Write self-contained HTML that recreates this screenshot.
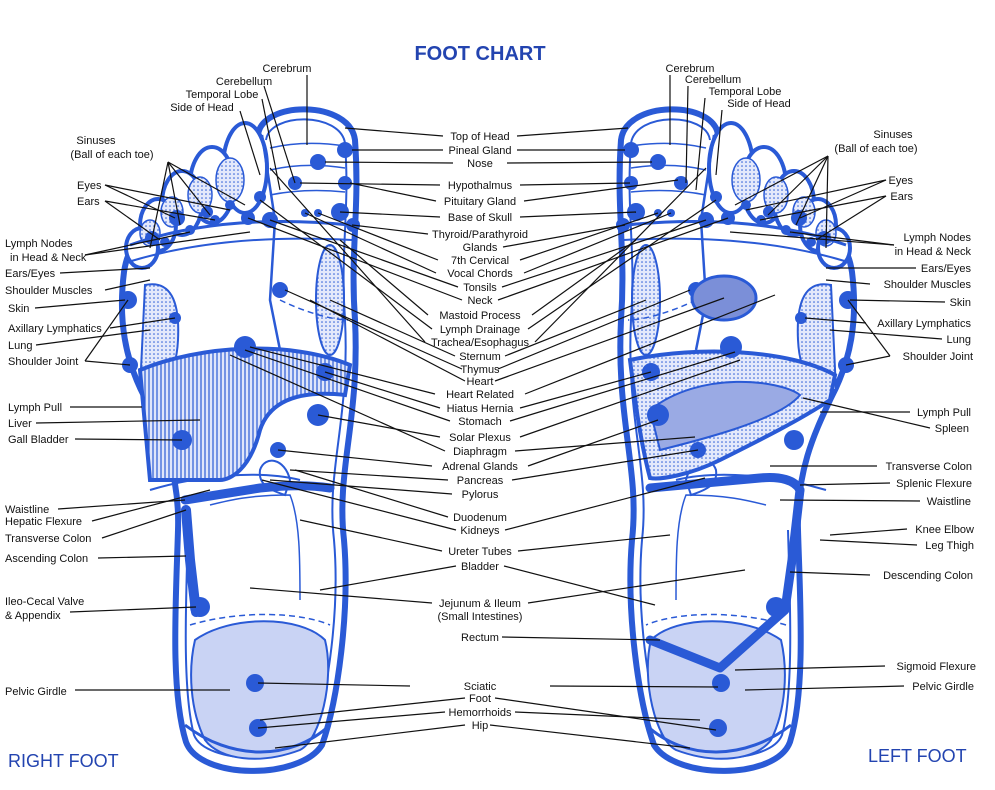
<!DOCTYPE html>
<html><head><meta charset="utf-8"><style>
html,body{margin:0;padding:0;background:#fff;}
svg{display:block;font-family:"Liberation Sans",Arial,sans-serif;}
.t{font-size:11px;fill:#111;}
.c{text-anchor:middle;}
.e{text-anchor:end;}
.L line{stroke:#111;stroke-width:1.2;}
</style></head><body>
<svg width="995" height="790" viewBox="0 0 995 790" xmlns="http://www.w3.org/2000/svg">
<defs>
<pattern id="hatch" width="4" height="4" patternUnits="userSpaceOnUse"><rect width="4" height="4" fill="#dfe5fa"/><line x1="1" y1="0" x2="1" y2="4" stroke="#2a5ad6" stroke-width="1.2"/></pattern>
<pattern id="dots" width="4" height="4" patternUnits="userSpaceOnUse"><rect width="4" height="4" fill="#e4e9fb"/><circle cx="2" cy="2" r="0.8" fill="#2a5ad6"/></pattern>
<g id="foot" stroke="#2a5ad6" fill="none">
 <!-- main outline -->
 <path d="M258,135 C262,100 350,100 355,140 C360,210 350,250 355,320 C360,420 336,470 344,540 C350,610 338,700 322,745 C300,780 200,780 186,742 C170,690 176,600 178,530 C180,470 160,430 145,398 C125,360 118,320 124,272 C128,245 140,235 160,232 Z" fill="#fff" stroke-width="6"/>
 <path d="M266,140 C270,112 340,112 345,143 C350,210 340,250 345,320 C350,420 326,470 334,540 C340,610 328,690 314,735 C296,765 206,765 194,735 C182,690 186,600 188,530" stroke-width="2"/>
 <!-- toes -->
 <ellipse cx="245" cy="168" rx="22" ry="45" stroke-width="4" fill="#fff"/>
 <ellipse cx="212" cy="185" rx="22" ry="38" stroke-width="4" fill="#fff"/>
 <ellipse cx="182" cy="203" rx="20" ry="32" stroke-width="4" fill="#fff"/>
 <ellipse cx="158" cy="225" rx="18" ry="26" stroke-width="4" fill="#fff"/>
 <ellipse cx="142" cy="248" rx="16" ry="20" stroke-width="4" fill="#fff"/>
 <ellipse cx="230" cy="180" rx="14" ry="22" fill="url(#dots)" stroke-width="1.5"/>
 <ellipse cx="200" cy="195" rx="12" ry="18" fill="url(#dots)" stroke-width="1.5"/>
 <ellipse cx="172" cy="212" rx="11" ry="15" fill="url(#dots)" stroke-width="1.5"/>
 <ellipse cx="150" cy="233" rx="10" ry="13" fill="url(#dots)" stroke-width="1.5"/>
 <!-- big toe lines -->
 <path d="M270,148 Q305,140 345,146 M270,170 Q305,162 345,168 M270,195 Q305,188 345,192" stroke-width="1.5"/>
 <path d="M262,135 L275,220 L270,300 L280,350" stroke-width="2.5"/>
 <!-- diaphragm band -->
 <path d="M130,245 C200,220 280,218 350,225" stroke-width="3"/>
 <path d="M128,262 C200,240 280,236 352,240" stroke-width="2"/>
 <!-- lung region -->
 <path d="M145,285 C170,280 180,300 178,340 C176,380 160,390 140,390 Z" fill="url(#dots)" stroke-width="2"/>
 <ellipse cx="330" cy="300" rx="14" ry="55" fill="url(#dots)" stroke-width="2"/>
 <path d="M280,300 C300,310 330,320 348,320" stroke-width="1.5" stroke-dasharray="6 4"/>
 <!-- stomach/pancreas -->
 <path d="M260,470 C265,455 285,458 290,480 L285,495 C270,490 258,485 260,470 Z" fill="#fff" stroke-width="2"/>
 <path d="M150,490 C200,475 260,470 300,480" stroke-width="2"/>
 <path d="M210,505 C230,500 250,495 290,495 C300,520 300,560 300,600" stroke-width="1.5"/>
 <path d="M190,625 C240,610 300,612 330,625" stroke-width="1.5" stroke-dasharray="6 4"/>
 <!-- heel -->
 <path d="M195,640 C230,615 300,615 325,640 C335,680 320,740 300,750 C260,765 220,760 205,740 C190,710 188,670 195,640 Z" fill="#c9d3f4" stroke-width="2"/>
 <path d="M185,725 C230,760 290,762 330,725" stroke-width="3"/>
</g>
<g id="dotsg" fill="#2a5ad6" stroke="none">
  <circle cx="345" cy="150" r="8"/><circle cx="318" cy="162" r="8"/><circle cx="295" cy="183" r="7"/>
  <circle cx="345" cy="183" r="7"/><circle cx="340" cy="212" r="9"/><circle cx="353" cy="225" r="7"/>
  <circle cx="270" cy="220" r="8"/><circle cx="260" cy="197" r="6"/><circle cx="248" cy="218" r="7"/>
  <circle cx="177" cy="218" r="8"/><circle cx="152" cy="238" r="7"/><circle cx="207" cy="212" r="6"/>
  <circle cx="230" cy="205" r="5"/><circle cx="215" cy="220" r="5"/><circle cx="190" cy="230" r="5"/>
  <circle cx="165" cy="242" r="5"/><circle cx="305" cy="213" r="4"/><circle cx="318" cy="213" r="4"/>
  <circle cx="128" cy="300" r="9"/><circle cx="175" cy="318" r="6"/><circle cx="130" cy="365" r="8"/>
  <circle cx="280" cy="290" r="8"/><circle cx="245" cy="347" r="11"/><circle cx="325" cy="372" r="9"/>
  <circle cx="318" cy="415" r="11"/><circle cx="278" cy="450" r="8"/><circle cx="182" cy="440" r="10"/>
  <circle cx="255" cy="683" r="9"/><circle cx="258" cy="728" r="9"/>
</g>
</defs>
<use href="#foot"/>
<use href="#foot" transform="translate(976,0) scale(-1,1)"/>
<!-- right foot liver + colon -->
<g stroke="#2a5ad6" fill="none">
 <path d="M140,370 C200,345 290,340 350,365 L345,395 C300,390 270,400 260,430 C250,470 230,480 220,480 L150,480 Z" fill="url(#hatch)" stroke-width="4"/>
 <path d="M185,500 L260,488 C290,485 310,485 330,488" stroke-width="9" stroke-linecap="round"/>
 <path d="M186,510 L190,560 L196,612" stroke-width="10" stroke-linecap="round"/>
</g>
<!-- left foot stomach/colon -->
<g stroke="#2a5ad6" fill="none">
 <path d="M630,360 C700,345 790,350 835,375 L830,400 C800,420 760,440 720,460 C690,475 660,480 650,478 C640,440 635,400 630,360 Z" fill="url(#dots)" stroke-width="4"/>
 <path d="M650,410 C700,370 780,380 800,395 C780,420 700,440 660,450 Z" fill="#9aaae4" stroke-width="2"/>
 <path d="M650,488 L760,478 C780,476 795,480 800,490" stroke-width="9" stroke-linecap="round"/>
 <path d="M800,490 L792,560 L785,610 L720,668 L650,640" stroke-width="9" stroke-linecap="round" stroke-linejoin="round"/>
</g>
<use href="#dotsg"/>
<use href="#dotsg" transform="translate(976,0) scale(-1,1)"/>
<circle cx="200" cy="607" r="10" fill="#2a5ad6"/>
<circle cx="776" cy="607" r="10" fill="#2a5ad6"/>
<ellipse cx="724" cy="298" rx="32" ry="22" fill="#7b8fd8" stroke="#2a5ad6" stroke-width="3"/>

<text x="480" y="60" class="c" style="font-size:20px;font-weight:bold;fill:#2344b0">FOOT CHART</text>
<text x="8" y="767" style="font-size:18px;fill:#2344b0">RIGHT FOOT</text>
<text x="868" y="762" style="font-size:18px;fill:#2344b0">LEFT FOOT</text>

<g class="t c">
<text x="480" y="140">Top of Head</text><text x="480" y="154">Pineal Gland</text><text x="480" y="167">Nose</text>
<text x="480" y="189">Hypothalmus</text><text x="480" y="205">Pituitary Gland</text><text x="480" y="221">Base of Skull</text>
<text x="480" y="238">Thyroid/Parathyroid</text><text x="480" y="251">Glands</text><text x="480" y="264">7th Cervical</text>
<text x="480" y="277">Vocal Chords</text><text x="480" y="291">Tonsils</text><text x="480" y="304">Neck</text>
<text x="480" y="319">Mastoid Process</text><text x="480" y="333">Lymph Drainage</text><text x="480" y="346">Trachea/Esophagus</text>
<text x="480" y="360">Sternum</text><text x="480" y="373">Thymus</text><text x="480" y="385">Heart</text>
<text x="480" y="398">Heart Related</text><text x="480" y="412">Hiatus Hernia</text><text x="480" y="425">Stomach</text>
<text x="480" y="441">Solar Plexus</text><text x="480" y="455">Diaphragm</text><text x="480" y="470">Adrenal Glands</text>
<text x="480" y="484">Pancreas</text><text x="480" y="498">Pylorus</text><text x="480" y="521">Duodenum</text>
<text x="480" y="534">Kidneys</text><text x="480" y="555">Ureter Tubes</text><text x="480" y="570">Bladder</text>
<text x="480" y="607">Jejunum &amp; Ileum</text><text x="480" y="620">(Small Intestines)</text><text x="480" y="641">Rectum</text>
<text x="480" y="690">Sciatic</text><text x="480" y="702">Foot</text><text x="480" y="716">Hemorrhoids</text><text x="480" y="729">Hip</text>
<text x="287" y="72">Cerebrum</text><text x="244" y="85">Cerebellum</text><text x="222" y="98">Temporal Lobe</text><text x="202" y="111">Side of Head</text>
<text x="96" y="144">Sinuses</text><text x="112" y="158">(Ball of each toe)</text>
<text x="690" y="72">Cerebrum</text><text x="713" y="83">Cerebellum</text><text x="745" y="95">Temporal Lobe</text><text x="759" y="107">Side of Head</text>
<text x="893" y="138">Sinuses</text><text x="876" y="152">(Ball of each toe)</text>
</g>
<g class="t">
<text x="77" y="189">Eyes</text><text x="77" y="205">Ears</text>
<text x="5" y="247">Lymph Nodes</text><text x="10" y="261">in Head &amp; Neck</text><text x="5" y="277">Ears/Eyes</text>
<text x="5" y="294">Shoulder Muscles</text><text x="8" y="312">Skin</text><text x="8" y="332">Axillary Lymphatics</text>
<text x="8" y="349">Lung</text><text x="8" y="365">Shoulder Joint</text><text x="8" y="411">Lymph Pull</text>
<text x="8" y="427">Liver</text><text x="8" y="443">Gall Bladder</text><text x="5" y="513">Waistline</text>
<text x="5" y="525">Hepatic Flexure</text><text x="5" y="542">Transverse Colon</text><text x="5" y="562">Ascending Colon</text>
<text x="5" y="605">Ileo-Cecal Valve</text><text x="5" y="619">&amp; Appendix</text><text x="5" y="695">Pelvic Girdle</text>
</g>
<g class="t e">
<text x="913" y="184">Eyes</text><text x="913" y="200">Ears</text>
<text x="971" y="241">Lymph Nodes</text><text x="971" y="255">in Head &amp; Neck</text><text x="971" y="272">Ears/Eyes</text>
<text x="971" y="288">Shoulder Muscles</text><text x="971" y="306">Skin</text><text x="971" y="327">Axillary Lymphatics</text>
<text x="971" y="343">Lung</text><text x="973" y="360">Shoulder Joint</text><text x="971" y="416">Lymph Pull</text>
<text x="969" y="432">Spleen</text><text x="972" y="470">Transverse Colon</text><text x="972" y="487">Splenic Flexure</text>
<text x="971" y="505">Waistline</text><text x="974" y="533">Knee Elbow</text><text x="974" y="549">Leg Thigh</text>
<text x="973" y="579">Descending Colon</text><text x="976" y="670">Sigmoid Flexure</text><text x="974" y="690">Pelvic Girdle</text>
</g>

<g class="L">
<line x1="443" y1="136" x2="345" y2="128"/><line x1="443" y1="150" x2="352" y2="150"/><line x1="453" y1="163" x2="325" y2="162"/>
<line x1="440" y1="185" x2="300" y2="183"/><line x1="436" y1="201" x2="350" y2="183"/><line x1="440" y1="217" x2="340" y2="212"/>
<line x1="428" y1="234" x2="352" y2="225"/><line x1="438" y1="260" x2="318" y2="213"/><line x1="436" y1="273" x2="305" y2="213"/>
<line x1="458" y1="287" x2="270" y2="220"/><line x1="462" y1="300" x2="248" y2="218"/><line x1="428" y1="315" x2="340" y2="240"/>
<line x1="432" y1="329" x2="260" y2="200"/><line x1="425" y1="342" x2="270" y2="168"/><line x1="455" y1="356" x2="330" y2="300"/>
<line x1="462" y1="369" x2="285" y2="290"/><line x1="465" y1="381" x2="310" y2="300"/><line x1="435" y1="394" x2="250" y2="347"/>
<line x1="440" y1="408" x2="325" y2="372"/><line x1="450" y1="421" x2="245" y2="350"/><line x1="440" y1="437" x2="318" y2="415"/>
<line x1="445" y1="451" x2="230" y2="355"/><line x1="432" y1="466" x2="278" y2="450"/><line x1="448" y1="480" x2="290" y2="470"/>
<line x1="452" y1="494" x2="270" y2="480"/><line x1="448" y1="517" x2="295" y2="470"/><line x1="456" y1="530" x2="262" y2="480"/>
<line x1="442" y1="551" x2="300" y2="520"/><line x1="456" y1="566" x2="320" y2="590"/><line x1="432" y1="603" x2="250" y2="588"/>
<line x1="410" y1="686" x2="258" y2="683"/><line x1="465" y1="698" x2="260" y2="720"/><line x1="445" y1="712" x2="258" y2="728"/>
<line x1="465" y1="725" x2="275" y2="748"/>
<line x1="517" y1="136" x2="628" y2="128"/><line x1="517" y1="150" x2="625" y2="150"/><line x1="507" y1="163" x2="652" y2="162"/>
<line x1="520" y1="185" x2="630" y2="183"/><line x1="524" y1="201" x2="678" y2="180"/><line x1="520" y1="217" x2="636" y2="212"/>
<line x1="503" y1="247" x2="625" y2="225"/><line x1="520" y1="260" x2="658" y2="213"/><line x1="524" y1="273" x2="671" y2="213"/>
<line x1="502" y1="287" x2="706" y2="220"/><line x1="498" y1="300" x2="728" y2="218"/><line x1="532" y1="315" x2="636" y2="240"/>
<line x1="528" y1="329" x2="716" y2="200"/><line x1="535" y1="342" x2="706" y2="168"/><line x1="505" y1="356" x2="646" y2="300"/>
<line x1="498" y1="369" x2="690" y2="290"/><line x1="495" y1="381" x2="724" y2="298"/><line x1="525" y1="394" x2="775" y2="295"/>
<line x1="520" y1="408" x2="651" y2="372"/><line x1="510" y1="421" x2="735" y2="352"/><line x1="520" y1="437" x2="740" y2="360"/>
<line x1="515" y1="451" x2="695" y2="437"/><line x1="528" y1="466" x2="658" y2="420"/><line x1="512" y1="480" x2="698" y2="450"/>
<line x1="505" y1="530" x2="705" y2="478"/><line x1="518" y1="551" x2="670" y2="535"/><line x1="504" y1="566" x2="655" y2="605"/>
<line x1="528" y1="603" x2="745" y2="570"/><line x1="502" y1="637" x2="660" y2="640"/><line x1="550" y1="686" x2="718" y2="687"/>
<line x1="495" y1="698" x2="716" y2="730"/><line x1="515" y1="712" x2="700" y2="720"/><line x1="490" y1="725" x2="690" y2="748"/>
<line x1="307" y1="75" x2="307" y2="145"/><line x1="264" y1="86" x2="295" y2="183"/><line x1="262" y1="99" x2="280" y2="190"/><line x1="240" y1="111" x2="260" y2="175"/>
<line x1="670" y1="75" x2="670" y2="145"/><line x1="688" y1="86" x2="686" y2="183"/><line x1="705" y1="98" x2="696" y2="190"/><line x1="722" y1="110" x2="716" y2="175"/>
<line x1="168" y1="162" x2="245" y2="205"/><line x1="168" y1="162" x2="210" y2="215"/><line x1="168" y1="162" x2="180" y2="225"/><line x1="168" y1="162" x2="150" y2="248"/>
<line x1="105" y1="185" x2="230" y2="210"/><line x1="105" y1="185" x2="175" y2="218"/><line x1="105" y1="201" x2="215" y2="220"/><line x1="105" y1="201" x2="160" y2="240"/>
<line x1="85" y1="255" x2="250" y2="232"/><line x1="85" y1="255" x2="190" y2="232"/><line x1="60" y1="273" x2="150" y2="268"/>
<line x1="105" y1="290" x2="150" y2="280"/><line x1="35" y1="308" x2="125" y2="300"/><line x1="110" y1="328" x2="175" y2="318"/>
<line x1="36" y1="345" x2="150" y2="330"/><line x1="85" y1="361" x2="130" y2="365"/><line x1="85" y1="361" x2="128" y2="300"/>
<line x1="70" y1="407" x2="142" y2="407"/><line x1="36" y1="423" x2="200" y2="420"/><line x1="75" y1="439" x2="182" y2="440"/>
<line x1="58" y1="509" x2="185" y2="500"/><line x1="92" y1="521" x2="210" y2="490"/><line x1="102" y1="538" x2="186" y2="510"/>
<line x1="98" y1="558" x2="186" y2="556"/><line x1="70" y1="612" x2="196" y2="607"/><line x1="75" y1="690" x2="230" y2="690"/>
<line x1="828" y1="156" x2="735" y2="205"/><line x1="828" y1="156" x2="768" y2="215"/><line x1="828" y1="156" x2="796" y2="225"/><line x1="828" y1="156" x2="826" y2="248"/>
<line x1="886" y1="180" x2="746" y2="210"/><line x1="886" y1="180" x2="800" y2="218"/><line x1="886" y1="196" x2="760" y2="220"/><line x1="886" y1="196" x2="816" y2="240"/>
<line x1="894" y1="245" x2="730" y2="232"/><line x1="894" y1="245" x2="790" y2="232"/><line x1="916" y1="268" x2="826" y2="268"/>
<line x1="870" y1="284" x2="826" y2="280"/><line x1="945" y1="302" x2="850" y2="300"/><line x1="866" y1="323" x2="805" y2="318"/>
<line x1="942" y1="339" x2="830" y2="330"/><line x1="890" y1="356" x2="846" y2="365"/><line x1="890" y1="356" x2="848" y2="300"/>
<line x1="910" y1="412" x2="820" y2="412"/><line x1="930" y1="428" x2="803" y2="398"/><line x1="877" y1="466" x2="770" y2="466"/>
<line x1="890" y1="483" x2="800" y2="485"/><line x1="920" y1="501" x2="780" y2="500"/><line x1="907" y1="529" x2="830" y2="535"/>
<line x1="917" y1="545" x2="820" y2="540"/><line x1="870" y1="575" x2="790" y2="572"/><line x1="885" y1="666" x2="735" y2="670"/>
<line x1="904" y1="686" x2="745" y2="690"/>
</g>
</svg>
</body></html>
